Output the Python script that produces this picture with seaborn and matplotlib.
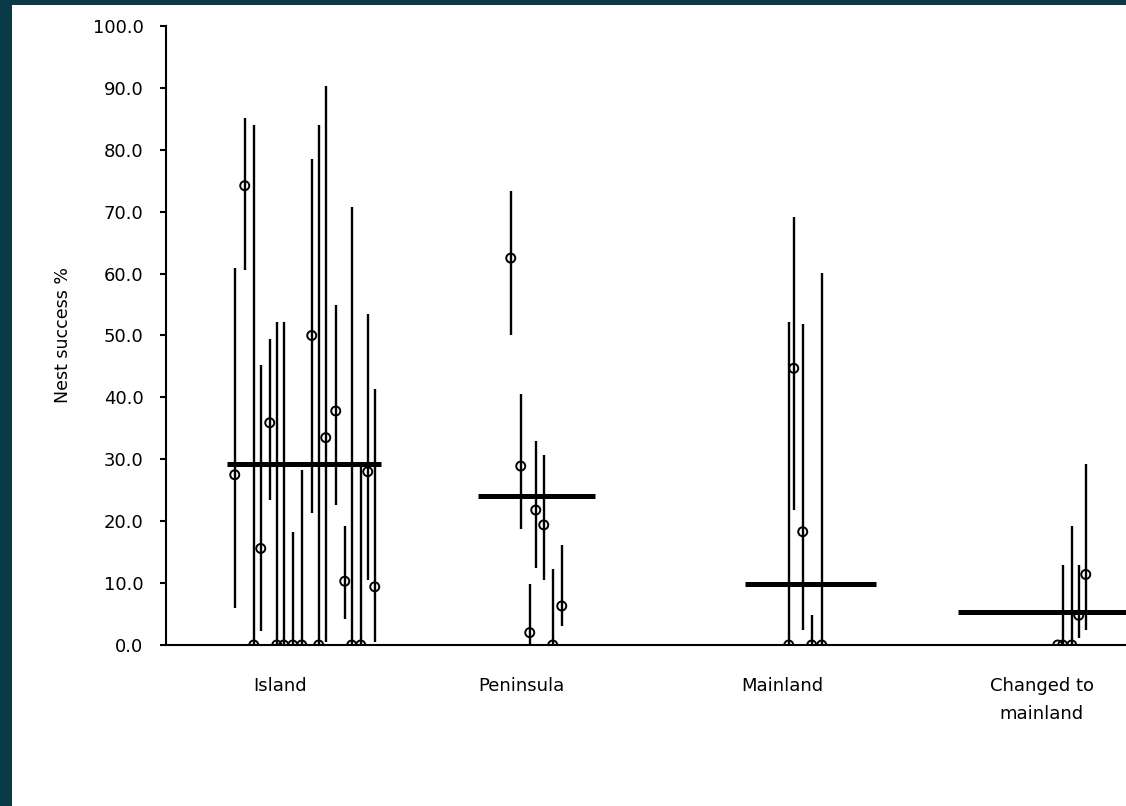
import numpy as np
import pandas as pd
import seaborn as sns
import matplotlib.pyplot as plt
from matplotlib.patches import Rectangle

#categories and tick label positions on the x axis
categories = ["Island", "Peninsula", "Mainland", "Changed to\nmainland"]
label_x = [114, 356, 617, 876]

#nest success (%) per site with lower / upper limits
island_x = [69, 79, 88, 95, 104, 111, 118, 127, 136, 146, 153, 160, 170, 179, 186, 195, 202, 209]
island_val = [27.5, 74.2, 0, 15.6, 35.9, 0, 0, 0, 0, 50.0, 0, 33.5, 37.8, 10.3, 0, 0, 28.0, 9.4]
island_lo = [6.0, 60.6, 0, 2.2, 23.4, 0, 0, 0, 0, 21.3, 0, 0.5, 22.6, 4.2, 0, 0, 10.5, 0.5]
island_hi = [60.9, 85.1, 84.0, 45.2, 49.5, 52.2, 52.2, 18.2, 28.3, 78.5, 84.0, 90.3, 54.9, 19.3, 70.7, 29.1, 53.4, 41.3]

peninsula_x = [345, 355, 364, 370, 378, 387, 396]
peninsula_val = [62.5, 28.9, 2.0, 21.8, 19.4, 0, 6.3]
peninsula_lo = [50.1, 18.7, 0, 12.4, 10.5, 0, 3.0]
peninsula_hi = [73.4, 40.5, 9.8, 33.0, 30.7, 12.2, 16.2]

mainland_x = [623, 628, 637, 646, 656]
mainland_val = [0, 44.7, 18.3, 0, 0]
mainland_lo = [0, 21.8, 2.5, 0, 0]
mainland_hi = [52.2, 69.1, 51.9, 4.8, 60.1]

changed_x = [892, 897, 906, 913, 920]
changed_val = [0, 0, 0, 4.8, 11.4]
changed_lo = [0, 0, 0, 1.1, 2.5]
changed_hi = [0, 13.0, 19.2, 13.0, 29.2]

#group means (thick horizontal bars) and their horizontal extent
group_mean = [29.2, 24.0, 9.8, 5.4]
mean_left = [61, 312, 579, 792]
mean_right = [215, 429, 710, 1100]

#build one table
frames = []
for name, xs, v, lo, hi in [("Island", island_x, island_val, island_lo, island_hi),
                            ("Peninsula", peninsula_x, peninsula_val, peninsula_lo, peninsula_hi),
                            ("Mainland", mainland_x, mainland_val, mainland_lo, mainland_hi),
                            ("Changed", changed_x, changed_val, changed_lo, changed_hi)]:
    frames.append(pd.DataFrame({"group": name, "x": xs, "success": v, "lo": lo, "hi": hi}))
df = pd.concat(frames, ignore_index=True)

sns.set_style("ticks", {"axes.edgecolor": "black", "text.color": "black",
                        "xtick.color": "black", "ytick.color": "black", "axes.labelcolor": "black"})
plt.rcParams["font.family"] = ["DejaVu Sans"]

teal = "#0b3a47"
fig = plt.figure(figsize=(11.26, 8.06), dpi=100, facecolor=teal)
fig.patches.append(Rectangle((12 / 1126, 0), 1.0, 801 / 806, transform=fig.transFigure,
                             facecolor="white", edgecolor="none", zorder=-10))

ax = fig.add_axes([0.1472, 0.19975, 0.9008, 0.7680])
ax.set_facecolor("none")

#error bars
ax.vlines(df["x"], df["lo"], df["hi"], color="black", linewidth=1.7, zorder=2)

#points
sns.scatterplot(data=df, x="x", y="success", ax=ax, marker="o", s=42,
                facecolor="none", edgecolor="black", linewidth=1.4, zorder=3, legend=False)

#group means
ax.hlines(group_mean, mean_left, mean_right, color="black", linewidth=3.6, zorder=4)

ax.set_xlim(0, 1014.3)
ax.set_ylim(0, 100)
ax.set_yticks(np.arange(0, 101, 10))
ax.set_yticklabels(["%.1f" % t for t in np.arange(0, 101, 10)], fontsize=13)
ax.set_xticks(label_x)
ax.set_xticklabels(categories, fontsize=13, linespacing=1.7)
ax.tick_params(axis="x", length=0, pad=23)
ax.tick_params(axis="y", length=4, width=1.5, pad=12, direction="out")

ax.set_xlabel("")
ax.set_ylabel("Nest success %", fontsize=12.5)
ax.yaxis.set_label_coords(-0.092, 0.5)

sns.despine(ax=ax)
ax.spines["left"].set_linewidth(1.5)
ax.spines["bottom"].set_linewidth(1.5)

plt.savefig("out.png", dpi=100, facecolor=teal)
